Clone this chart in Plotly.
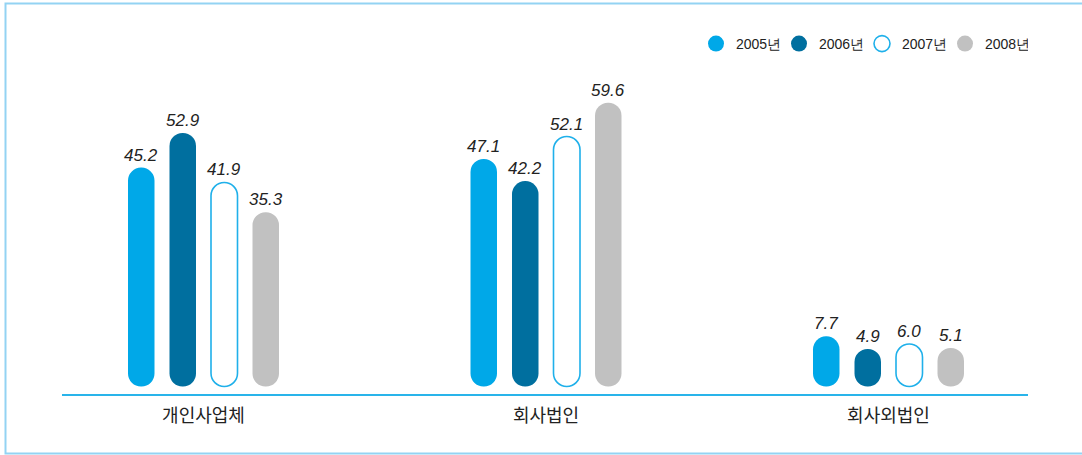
import plotly.graph_objects as go

# Survey shares (%) by organisation type and year
categories = ["개인사업체", "회사법인", "회사외법인"]
years = ["2005년", "2006년", "2007년", "2008년"]
v2005 = [45.2, 47.1, 7.7]
v2006 = [52.9, 42.2, 4.9]
v2007 = [41.9, 52.1, 6.0]
v2008 = [35.3, 59.6, 5.1]
series = [v2005, v2006, v2007, v2008]

C_2005 = "#00a8e8"
C_2006 = "#006f9f"
C_2007 = "#1fb0ea"
C_2008 = "#c1c1c1"
colors = [C_2005, C_2006, C_2007, C_2008]
hollow = [False, False, True, False]

W, H = 1082, 455
ML, MR, MT, MB = 62, 54, 20, 61
PW, PH = W - ML - MR, H - MT - MB

# pixel scales
X_PX = 342.5          # px per category step
X0_PX = 203.5         # pixel position of the first category
Y_PX = 4.5            # px per percentage point
Y0_PX = 371.0         # pixel row of value 0

x_min = (ML - X0_PX) / X_PX
x_max = x_min + PW / X_PX
y_min = -((H - MB) - Y0_PX) / Y_PX
y_max = y_min + PH / Y_PX

BASE = -15.5 / Y_PX                     # rounded foot sits slightly below zero
BAR_W = 26.5 / X_PX
OFFSETS = [o / X_PX for o in (-62.25, -20.75, 20.75, 62.25)]

fig = go.Figure()

# capsule bars: an explicit base makes plotly round both ends
for i, vals in enumerate(series):
    xs = [g + OFFSETS[i] for g in range(len(categories))]
    if hollow[i]:
        marker = dict(color="white", cornerradius="50%",
                      line=dict(color=colors[i], width=1.6))
    else:
        marker = dict(color=colors[i], cornerradius="50%", line=dict(width=0))
    fig.add_trace(go.Bar(x=xs, y=[v - BASE for v in vals], base=BASE,
                         width=BAR_W, marker=marker, showlegend=False,
                         hoverinfo="skip"))
    for x, v in zip(xs, vals):
        fig.add_annotation(x=x, y=v, text=f"{v:.1f}", showarrow=False,
                           yanchor="bottom", yshift=1,
                           font=dict(family="Liberation Sans", size=17,
                                     color="#222222", style="italic"))

# legend entries
for i, name in enumerate(years):
    if hollow[i]:
        mk = dict(size=16, color="white", line=dict(color=colors[i], width=1.6))
    else:
        mk = dict(size=16, color=colors[i], line=dict(width=0))
    fig.add_trace(go.Scatter(x=[None], y=[None], mode="markers", name=name,
                             marker=mk, hoverinfo="skip"))

# outer frame: top, left and bottom edges
fx0 = (5.5 - ML) / PW
fx1 = (W + 60 - ML) / PW
fy0 = ((H - MB) - 453.5) / PH
fy1 = ((H - MB) - 3.5) / PH
fig.add_shape(type="path", xref="paper", yref="paper",
              path=f"M {fx1},{fy1} L {fx0},{fy1} L {fx0},{fy0} L {fx1},{fy0}",
              line=dict(color="#93d3f3", width=2), layer="below")

fig.update_layout(
    width=W, height=H,
    margin=dict(l=ML, r=MR, t=MT, b=MB, pad=0),
    paper_bgcolor="white", plot_bgcolor="white",
    barmode="overlay",
    showlegend=True,
    legend=dict(orientation="h", x=1.0, xanchor="right",
                y=((H - MB) - 44) / PH, yanchor="middle",
                entrywidth=38, entrywidthmode="pixels",
                font=dict(family="Liberation Sans", size=14, color="#222222"),
                bgcolor="rgba(0,0,0,0)", itemclick=False, itemdoubleclick=False),
    xaxis=dict(range=[x_min, x_max], tickmode="array",
               tickvals=list(range(len(categories))), ticktext=categories,
               tickfont=dict(family="Noto Sans CJK KR", size=18, color="#222222"),
               ticklabelstandoff=4,
               showline=True, linecolor="#29b4ea", linewidth=2,
               showgrid=False, zeroline=False, ticks="", fixedrange=True),
    yaxis=dict(range=[y_min, y_max], visible=False, showgrid=False,
               zeroline=False, fixedrange=True),
)

fig.write_html("out.html", config={"displayModeBar": False})
